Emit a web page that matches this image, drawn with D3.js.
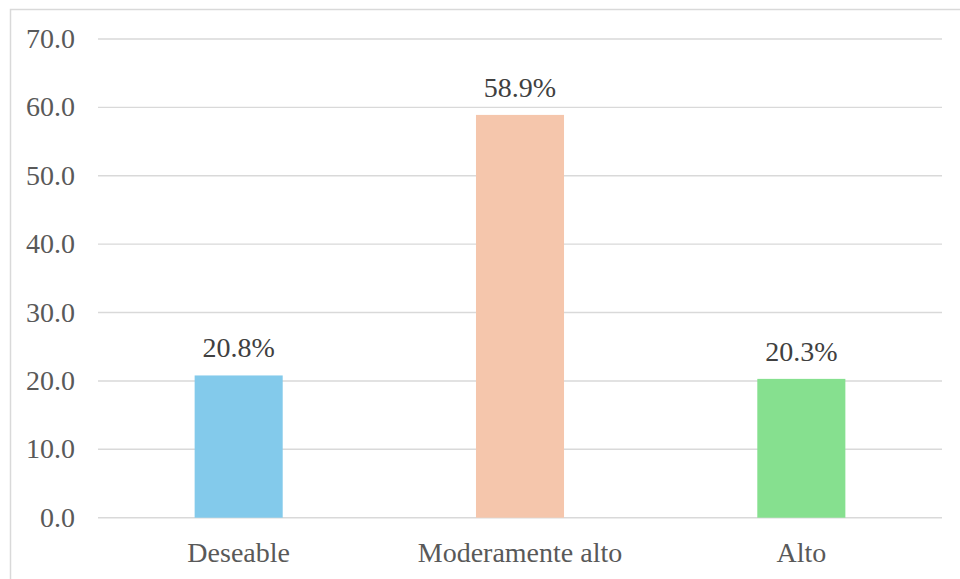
<!DOCTYPE html>
<html><head><meta charset="utf-8">
<script src="https://cdn.jsdelivr.net/npm/d3@7"></script>
</head><body style="margin:0;padding:0;background:#fff;">
<svg id="chart" width="960" height="579" style="display:block;"></svg>
<script>
const categories = ["Deseable", "Moderamente alto", "Alto"];
const values = [20.8, 58.9, 20.3];
const colors = ["#83CAEB", "#F5C6AC", "#86E08F"];
const yTicks = [0, 10, 20, 30, 40, 50, 60, 70];

const svg = d3.select("#chart");
const mLeft = 98, mRight = 942, mTop = 39, mBottom = 517.7;
const TXT = "font-family:'Liberation Serif',Tinos,'Times New Roman',serif !important;font-size:28px !important;";

svg.append("path").attr("d", "M10.5,579 L10.5,9.5 L960,9.5")
  .attr("fill", "none").attr("stroke", "#d9d9d9").attr("stroke-width", 1.5);

const x = d3.scaleBand().domain(categories).range([mLeft, mRight])
  .paddingInner(0.687).paddingOuter(0.3435);
const y = d3.scaleLinear().domain([0, 70]).range([mBottom, mTop]);

svg.append("g").selectAll("line").data(yTicks).join("line")
  .attr("x1", mLeft).attr("x2", mRight)
  .attr("y1", d => y(d)).attr("y2", d => y(d))
  .attr("stroke", "#d9d9d9").attr("stroke-width", 1.4);

svg.selectAll("text.tick").data(yTicks).join("text").attr("class", "tick")
  .attr("x", 75).attr("y", d => y(d) + 9)
  .attr("text-anchor", "end")
  .attr("font-family", "Liberation Serif")
  .attr("style", TXT + "fill:#595959")
  .text(d => d3.format(".1f")(d));

svg.append("g").selectAll("rect").data(values).join("rect")
  .attr("x", (d, i) => x(categories[i]))
  .attr("width", x.bandwidth())
  .attr("y", d => y(d))
  .attr("height", d => y(0) - y(d))
  .attr("fill", (d, i) => colors[i]);

svg.selectAll("text.val").data(values).join("text").attr("class", "val")
  .attr("x", (d, i) => x(categories[i]) + x.bandwidth() / 2)
  .attr("y", d => y(d) - 18)
  .attr("text-anchor", "middle")
  .attr("font-family", "Liberation Serif")
  .attr("style", TXT + "fill:#404040")
  .text(d => d3.format(".1f")(d) + "%");

svg.selectAll("text.cat").data(categories).join("text").attr("class", "cat")
  .attr("x", d => x(d) + x.bandwidth() / 2)
  .attr("y", mBottom + 44)
  .attr("text-anchor", "middle")
  .attr("font-family", "Liberation Serif")
  .attr("style", TXT + "fill:#595959")
  .text(d => d);
</script>
</body></html>
